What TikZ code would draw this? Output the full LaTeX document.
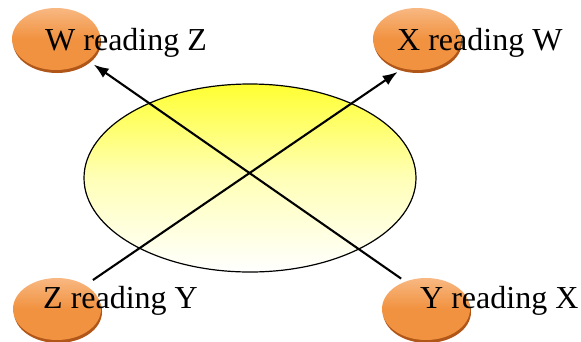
\documentclass[tikz,border=0pt]{standalone}
\usepackage{fontspec}
\setmainfont{Liberation Serif}
\usepackage{tikz}
\usetikzlibrary{arrows.meta,positioning,shapes.geometric,shadows}

\definecolor{orangetop}{RGB}{248,184,130}
\definecolor{orangemid}{RGB}{241,146,64}
\definecolor{orangerim}{RGB}{176,86,24}
\definecolor{yellowtop}{RGB}{255,255,50}

\begin{document}
\begin{tikzpicture}[
    x=1pt, y=-1pt,
    reader/.style={ellipse, minimum width=88pt, minimum height=62pt, inner sep=0pt,
        top color=orangetop, bottom color=orangemid, middle color=orangemid,
        drop shadow={shadow xshift=1pt, shadow yshift=-3pt, fill=orangerim, opacity=1}},
    store/.style={ellipse, draw, line width=1.2pt, minimum width=332pt, minimum height=188pt,
        top color=yellowtop, bottom color=white, middle color=yellowtop!35!white},
    caption/.style={anchor=base west, inner sep=0pt, font=\fontsize{32}{36}\selectfont},
    arrow/.style={-{Latex[length=15pt,width=11pt]}, line width=2.1pt}
]
\useasboundingbox (0,0) rectangle (581,341);
\node[store] (file) at (250,178) {};
\node[reader] (w) at (56,39) {};
\node[reader] (x) at (417,39) {};
\node[reader] (z) at (57,309) {};
\node[reader] (y) at (426,309) {};
\node[caption] (wtext) at (45,50) {W reading Z};
\node[caption] (xtext) at (397,50) {X reading W};
\node[caption] (ztext) at (43,308) {Z reading Y};
\node[caption] (ytext) at (420,308) {Y reading X};
\draw[arrow, shorten <=5pt, shorten >=7pt] (y.127) -- (w.-34);
\draw[arrow, shorten <=9pt, shorten >=6pt] (z.40) -- (x.244);
\end{tikzpicture}
\end{document}
